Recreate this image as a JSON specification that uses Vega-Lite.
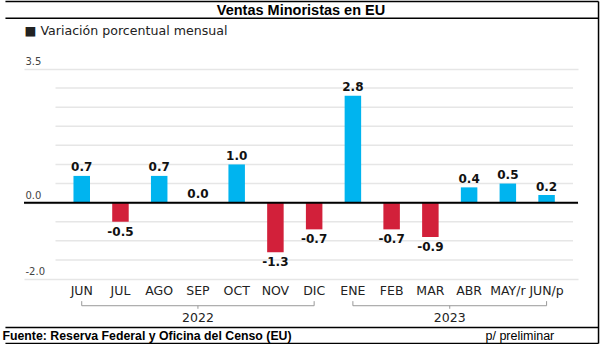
{
  "$schema": "https://vega.github.io/schema/vega-lite/v6.json",
  "width": 554,
  "height": 210,
  "autosize": {"type": "none"},
  "padding": {"left": 24, "top": 69, "right": 29, "bottom": 65},
  "background": "white",
  "config": {
    "view": {"stroke": null},
    "font": "DejaVu Sans",
    "locale": {"number": {"decimal": ".", "thousands": ",", "grouping": [3], "currency": ["$", ""], "minus": "-"}}
  },
  "title": {
    "text": "Ventas Minoristas en EU",
    "anchor": "middle",
    "frame": "group",
    "font": "Liberation Sans",
    "fontSize": 14.5,
    "fontWeight": "bold",
    "color": "#000000",
    "offset": 0,
    "dy": 17.5
  },
  "datasets": {
    "ventas": [
      {"i": 0, "mes": "JUN", "valor": 0.7},
      {"i": 1, "mes": "JUL", "valor": -0.5},
      {"i": 2, "mes": "AGO", "valor": 0.7},
      {"i": 3, "mes": "SEP", "valor": 0.0},
      {"i": 4, "mes": "OCT", "valor": 1.0},
      {"i": 5, "mes": "NOV", "valor": -1.3},
      {"i": 6, "mes": "DIC", "valor": -0.7},
      {"i": 7, "mes": "ENE", "valor": 2.8},
      {"i": 8, "mes": "FEB", "valor": -0.7},
      {"i": 9, "mes": "MAR", "valor": -0.9},
      {"i": 10, "mes": "ABR", "valor": 0.4},
      {"i": 11, "mes": "MAY/r", "valor": 0.5},
      {"i": 12, "mes": "JUN/p", "valor": 0.2}
    ],
    "anios": [
      {"anio": "2022", "inicio": 0, "fin": 6, "centro": 3},
      {"anio": "2023", "inicio": 7, "fin": 12, "centro": 9.5}
    ],
    "rejilla": [
      {"g": -1.5}, {"g": -1.0}, {"g": -0.5}, {"g": 0.5}, {"g": 1.0},
      {"g": 1.5}, {"g": 2.0}, {"g": 2.5}, {"g": 3.0}
    ],
    "uno": [{}]
  },
  "resolve": {"axis": {"x": "independent", "y": "independent"}},
  "layer": [
    {
      "data": {"name": "rejilla"},
      "mark": {"type": "rule", "color": "#e6e6e6", "strokeWidth": 1.5},
      "encoding": {
        "x": {"datum": -0.677, "type": "quantitative", "scale": {"domain": [-1.361, 12.682], "nice": false, "zero": false}, "axis": null},
        "x2": {"datum": 12.682},
        "y": {"field": "g", "type": "quantitative", "scale": {"domain": [-2, 3.5], "nice": false, "zero": false}, "axis": null}
      }
    },
    {
      "data": {"name": "ventas"},
      "mark": {"type": "bar", "width": 16.5},
      "encoding": {
        "x": {
          "field": "i", "type": "quantitative",
          "scale": {"domain": [-1.361, 12.682], "nice": false, "zero": false},
          "axis": {
            "title": "Fuente: Reserva Federal y Oficina del Censo (EU)",
            "labels": false, "ticks": false, "domain": false, "grid": false,
            "titleX": -22, "titleY": 60, "titleAlign": "left", "titleBaseline": "alphabetic",
            "titleFont": "Liberation Sans", "titleFontSize": 12.3, "titleFontWeight": "bold", "titleColor": "#000000"
          }
        },
        "y": {
          "field": "valor", "type": "quantitative",
          "scale": {"domain": [-2, 3.5], "nice": false, "zero": false},
          "axis": {
            "values": [-2, 0, 3.5], "format": ".1f",
            "grid": true, "gridColor": "#e6e6e6", "gridWidth": 1.5,
            "ticks": false, "domain": false,
            "labelAlign": "left", "labelBaseline": "alphabetic", "labelPadding": -1, "labelOffset": -4.5,
            "labelFont": "DejaVu Sans", "labelFontSize": 10, "labelColor": "#444444",
            "title": "■ Variación porcentual mensual",
            "titleAngle": 0, "titleAlign": "left", "titleBaseline": "alphabetic",
            "titleX": 0, "titleY": -35,
            "titleFont": "DejaVu Sans", "titleFontSize": 12.6, "titleFontWeight": "normal", "titleColor": "#222222"
          }
        },
        "y2": {"datum": 0},
        "color": {"condition": {"test": "datum.valor < 0", "value": "#d2203a"}, "value": "#00b4ef"}
      }
    },
    {
      "data": {"name": "uno"},
      "mark": {"type": "rule", "color": "#000000", "strokeWidth": 2},
      "encoding": {
        "y": {
          "datum": 0, "type": "quantitative",
          "axis": {
            "orient": "right", "title": "p/ preliminar",
            "labels": false, "ticks": false, "domain": false, "grid": false,
            "titleAngle": 0, "titleAlign": "left", "titleBaseline": "alphabetic",
            "titleX": -93, "titleY": 270,
            "titleFont": "Liberation Sans", "titleFontSize": 12.5, "titleFontWeight": "normal", "titleColor": "#000000"
          }
        }
      }
    },
    {
      "data": {"name": "ventas"},
      "transform": [{"filter": "datum.valor >= 0"}],
      "mark": {"type": "text", "font": "DejaVu Sans", "fontWeight": "bold", "fontSize": 12, "color": "#111111", "baseline": "alphabetic", "dy": -4.5, "clip": false},
      "encoding": {
        "x": {"field": "i", "type": "quantitative", "axis": null},
        "y": {"field": "valor", "type": "quantitative", "axis": null},
        "text": {"field": "valor", "type": "quantitative", "format": ".1f"}
      }
    },
    {
      "data": {"name": "ventas"},
      "transform": [{"filter": "datum.valor < 0"}],
      "mark": {"type": "text", "font": "DejaVu Sans", "fontWeight": "bold", "fontSize": 12, "color": "#111111", "baseline": "top", "dy": 5, "clip": false},
      "encoding": {
        "x": {"field": "i", "type": "quantitative", "axis": null},
        "y": {"field": "valor", "type": "quantitative", "axis": null},
        "text": {"field": "valor", "type": "quantitative", "format": ".1f"}
      }
    },
    {
      "data": {"name": "ventas"},
      "mark": {"type": "text", "font": "DejaVu Sans", "fontSize": 12.5, "color": "#222222", "baseline": "alphabetic", "dy": 16, "clip": false},
      "encoding": {
        "x": {"field": "i", "type": "quantitative", "axis": null},
        "y": {"datum": -2, "type": "quantitative", "axis": null},
        "text": {"field": "mes"}
      }
    },
    {
      "data": {"name": "anios"},
      "mark": {"type": "rule", "color": "#999999", "strokeWidth": 1, "clip": false},
      "encoding": {
        "x": {"field": "inicio", "type": "quantitative", "axis": null},
        "x2": {"field": "fin"},
        "y": {"datum": -2.7, "type": "quantitative", "axis": null}
      }
    },
    {
      "data": {"name": "anios"},
      "mark": {"type": "rule", "color": "#999999", "strokeWidth": 1, "clip": false},
      "encoding": {
        "x": {"field": "inicio", "type": "quantitative", "axis": null},
        "y": {"datum": -2.7, "type": "quantitative", "axis": null},
        "y2": {"datum": -2.58}
      }
    },
    {
      "data": {"name": "anios"},
      "mark": {"type": "rule", "color": "#999999", "strokeWidth": 1, "clip": false},
      "encoding": {
        "x": {"field": "fin", "type": "quantitative", "axis": null},
        "y": {"datum": -2.7, "type": "quantitative", "axis": null},
        "y2": {"datum": -2.58}
      }
    },
    {
      "data": {"name": "anios"},
      "mark": {"type": "rule", "color": "#999999", "strokeWidth": 1, "clip": false},
      "encoding": {
        "x": {"field": "centro", "type": "quantitative", "axis": null},
        "y": {"datum": -2.7, "type": "quantitative", "axis": null},
        "y2": {"datum": -2.78}
      }
    },
    {
      "data": {"name": "anios"},
      "mark": {"type": "text", "font": "DejaVu Sans", "fontSize": 12.5, "color": "#222222", "baseline": "alphabetic", "dy": 42.5, "clip": false},
      "encoding": {
        "x": {"field": "centro", "type": "quantitative", "axis": null},
        "y": {"datum": -2, "type": "quantitative", "axis": null},
        "text": {"field": "anio"}
      }
    },
    {
      "data": {"name": "uno"},
      "mark": {"type": "rule", "color": "#000000", "strokeWidth": 1.5, "clip": false},
      "encoding": {
        "x": {"datum": -1.969, "type": "quantitative", "axis": null},
        "x2": {"datum": 13.341},
        "y": {"datum": 5.268, "type": "quantitative", "axis": null}
      }
    },
    {
      "data": {"name": "uno"},
      "mark": {"type": "rule", "color": "#000000", "strokeWidth": 1.5, "clip": false},
      "encoding": {
        "x": {"datum": -1.969, "type": "quantitative", "axis": null},
        "x2": {"datum": 13.341},
        "y": {"datum": 4.828, "type": "quantitative", "axis": null}
      }
    },
    {
      "data": {"name": "uno"},
      "mark": {"type": "rule", "color": "#000000", "strokeWidth": 1.5, "clip": false},
      "encoding": {
        "x": {"datum": -1.969, "type": "quantitative", "axis": null},
        "x2": {"datum": 13.341},
        "y": {"datum": -3.271, "type": "quantitative", "axis": null}
      }
    },
    {
      "data": {"name": "uno"},
      "mark": {"type": "rule", "color": "#000000", "strokeWidth": 1.5, "clip": false},
      "encoding": {
        "x": {"datum": -1.969, "type": "quantitative", "axis": null},
        "x2": {"datum": 13.341},
        "y": {"datum": -3.69, "type": "quantitative", "axis": null}
      }
    },
    {
      "data": {"name": "uno"},
      "mark": {"type": "rule", "color": "#000000", "strokeWidth": 1.5, "clip": false},
      "encoding": {
        "x": {"datum": 13.341, "type": "quantitative", "axis": null},
        "y": {"datum": 5.268, "type": "quantitative", "axis": null},
        "y2": {"datum": -3.69}
      }
    }
  ]
}
